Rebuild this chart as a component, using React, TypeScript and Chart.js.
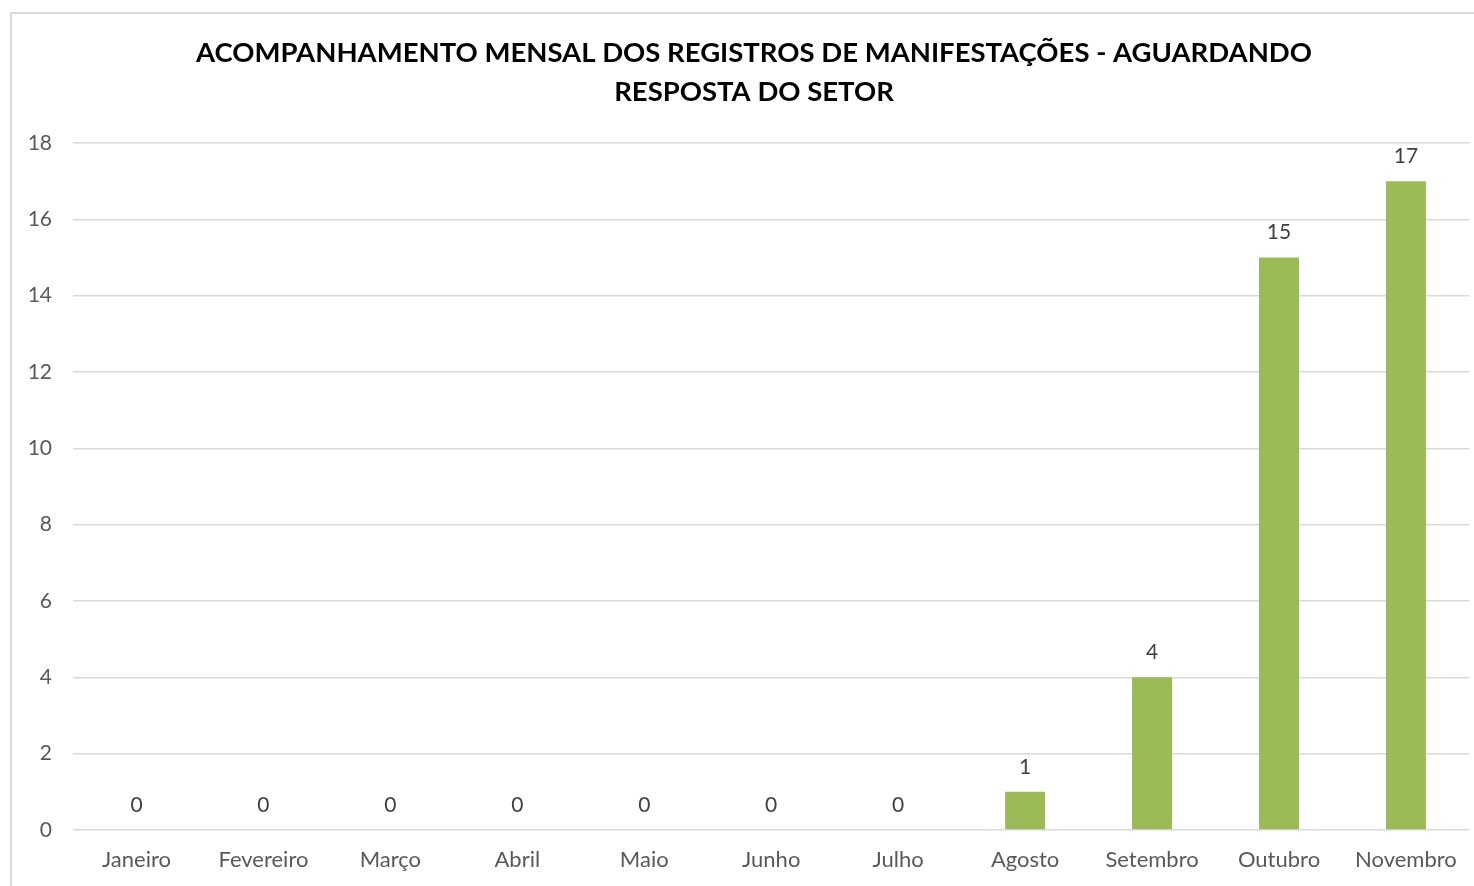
import React, { useEffect, useRef } from "react";
import { Chart, registerables } from "chart.js";

Chart.register(...registerables);

const months = ["Janeiro", "Fevereiro", "Março", "Abril", "Maio", "Junho", "Julho", "Agosto", "Setembro", "Outubro", "Novembro"];
const values = [0, 0, 0, 0, 0, 0, 0, 1, 4, 15, 17];
const titleLines = ["ACOMPANHAMENTO MENSAL DOS REGISTROS DE MANIFESTAÇÕES - AGUARDANDO", "RESPOSTA DO SETOR"];

const FONT = "Lato, 'Open Sans', sans-serif";

const frame = {
  id: "frame",
  beforeDraw(chart: any) {
    const ctx = chart.ctx;
    ctx.save();
    ctx.fillStyle = "#ffffff";
    ctx.fillRect(0, 0, chart.width, chart.height);
    ctx.strokeStyle = "#d9d9d9";
    ctx.lineWidth = 2;
    ctx.strokeRect(11, 13, chart.width + 20, chart.height + 20);
    ctx.font = `bold 27.5px ${FONT}`;
    ctx.fillStyle = "#000000";
    ctx.textAlign = "center";
    ctx.textBaseline = "middle";
    titleLines.forEach((line, i) => ctx.fillText(line, 754, 53 + i * 39));
    ctx.restore();
  },
};

const dataLabels = {
  id: "dataLabels",
  afterDatasetsDraw(chart: any) {
    const ctx = chart.ctx;
    const meta = chart.getDatasetMeta(0);
    ctx.save();
    ctx.font = `21px ${FONT}`;
    ctx.fillStyle = "#404040";
    ctx.textAlign = "center";
    ctx.textBaseline = "middle";
    meta.data.forEach((el: any, i: number) => {
      ctx.fillText(String(chart.data.datasets[0].data[i]), el.x, el.y - 25);
    });
    ctx.restore();
  },
};

export default function App() {
  const ref = useRef<HTMLCanvasElement>(null);
  useEffect(() => {
    if (!ref.current) return;
    const chart = new Chart(ref.current, {
      type: "bar",
      data: {
        labels: months,
        datasets: [
          {
            data: values,
            backgroundColor: "#9bbb59",
            categoryPercentage: 1,
            barPercentage: 0.315,
          },
        ],
      },
      options: {
        responsive: false,
        animation: false,
        layout: { padding: { left: 0, right: 4, top: 143, bottom: 0 } },
        plugins: {
          legend: { display: false },
          tooltip: { enabled: false },
          title: { display: false },
        },
        scales: {
          x: {
            grid: { display: false, drawTicks: false },
            border: { display: false },
            ticks: { color: "#595959", font: { family: FONT, size: 22 }, padding: 17, maxRotation: 0, autoSkip: false },
            afterFit: (s: any) => { s.height = 56; },
          },
          y: {
            min: 0,
            max: 18,
            grid: { color: "#d9d9d9", lineWidth: 1.5, drawTicks: false },
            border: { display: false },
            ticks: { stepSize: 2, color: "#595959", font: { family: FONT, size: 21 }, padding: 21 },
            afterFit: (s: any) => { s.width = 73; },
          },
        },
      },
      plugins: [frame, dataLabels],
    });
    return () => chart.destroy();
  }, []);
  return (
    <div style={{ position: "absolute", left: 0, top: 0, width: 1474, height: 886 }}>
      <canvas ref={ref} width={1474} height={886} />
    </div>
  );
}
